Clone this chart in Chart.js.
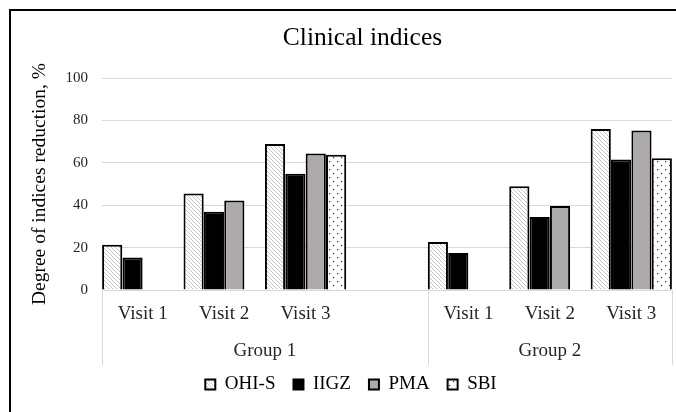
<!DOCTYPE html>
<html>
<head>
<meta charset="utf-8">
<script src="https://cdn.jsdelivr.net/npm/chart.js@4/dist/chart.umd.min.js"></script>
<style>
html,body{margin:0;padding:0;background:#fff;overflow:hidden;}
#wrap{position:relative;width:676px;height:412px;}
</style>
</head>
<body>
<div id="wrap"><canvas id="c" width="676" height="412"></canvas></div>
<script>
// ---- data ----
const chartTitle = 'Clinical indices';
const categories = ['Visit 1', 'Visit 2', 'Visit 3', '', 'Visit 1', 'Visit 2', 'Visit 3'];
const groupOf    = ['Group 1', 'Group 1', 'Group 1', 'Group 1', 'Group 2', 'Group 2', 'Group 2'];
const seriesNames = ['OHI-S', 'IIGZ', 'PMA', 'SBI'];
const ohis = [21.3, 45.5, 68.9, null, 22.7, 48.9, 76.0];
const iigz = [15.3, 36.9, 54.8, null, 17.4, 34.4, 61.5];
const pma  = [null, 42.2, 64.4, null, null, 39.6, 75.2];
const sbi  = [null, null, 63.8, null, null, null, 62.1];
const yTicks = [0, 20, 40, 60, 80, 100];

const FONT = "'Liberation Serif', 'Times New Roman', serif";

// ---- patterns ----
function hatchPattern() {
  const s = 4, c = document.createElement('canvas');
  c.width = s; c.height = s;
  const x = c.getContext('2d');
  x.fillStyle = '#ffffff'; x.fillRect(0, 0, s, s);
  x.strokeStyle = '#c4c4c4'; x.lineWidth = 1;
  x.beginPath();
  x.moveTo(-1, -1); x.lineTo(s + 1, s + 1);
  x.moveTo(-1, s - 1); x.lineTo(1, s + 1);
  x.moveTo(s - 1, -1); x.lineTo(s + 1, 1);
  x.stroke();
  return x.createPattern(c, 'repeat');
}
function dotPattern() {
  const s = 8, c = document.createElement('canvas');
  c.width = s; c.height = s;
  const x = c.getContext('2d');
  x.fillStyle = '#ffffff'; x.fillRect(0, 0, s, s);
  x.fillStyle = '#333333';
  x.fillRect(1, 1, 1.2, 1.2);
  x.fillRect(5, 5, 1.2, 1.2);
  return x.createPattern(c, 'repeat');
}

const fills = [hatchPattern(), '#000000', '#aeaaaa', dotPattern()];
const values = [ohis, iigz, pma, sbi];

const datasets = seriesNames.map((n, i) => ({
  label: n,
  data: values[i],
  backgroundColor: fills[i],
  borderColor: '#000000',
  borderWidth: 2,
  borderSkipped: 'bottom',
  categoryPercentage: 1.0,
  barPercentage: 0.99
}));

// ---- plugin: title, group labels, dividers, outer frame ----
const extras = {
  id: 'extras',
  afterDraw(chart) {
    const ctx = chart.ctx, xs = chart.scales.x, area = chart.chartArea;
    const bottom = area.bottom;
    const bounds = [xs.left];
    for (let i = 1; i < categories.length; i++) {
      if (groupOf[i] !== groupOf[i - 1]) {
        bounds.push((xs.getPixelForValue(i - 1) + xs.getPixelForValue(i)) / 2);
      }
    }
    bounds.push(xs.right);
    ctx.save();
    ctx.strokeStyle = '#d9d9d9';
    ctx.lineWidth = 1;
    bounds.forEach(b => {
      const bx = Math.round(b) + 0.5;
      ctx.beginPath(); ctx.moveTo(bx, bottom); ctx.lineTo(bx, bottom + 75); ctx.stroke();
    });
    const groups = [...new Set(groupOf)];
    ctx.fillStyle = '#262626';
    ctx.font = '19px ' + FONT;
    ctx.textAlign = 'center';
    ctx.textBaseline = 'middle';
    groups.forEach((g, i) => {
      ctx.fillText(g, (bounds[i] + bounds[i + 1]) / 2, bottom + 61);
    });
    // chart title
    ctx.fillStyle = '#000000';
    ctx.font = '25.5px ' + FONT;
    ctx.fillText(chartTitle, 362.5, 38);
    // frame
    ctx.strokeStyle = '#000000';
    ctx.lineWidth = 2;
    ctx.strokeRect(10, 10, 900, 900);
    ctx.restore();
  }
};

new Chart(document.getElementById('c'), {
  type: 'bar',
  data: { labels: categories, datasets },
  options: {
    responsive: false,
    animation: false,
    layout: { padding: { left: 30, right: 4, top: 78, bottom: 8 } },
    plugins: {
      title: { display: false },
      legend: {
        display: true,
        position: 'bottom',
        labels: {
          color: '#000000',
          font: { family: FONT, size: 19 },
          boxWidth: 10,
          boxHeight: 10,
          padding: 18
        }
      },
      tooltip: { enabled: false }
    },
    scales: {
      x: {
        grid: { display: false },
        border: { display: false },
        ticks: {
          color: '#262626',
          font: { family: FONT, size: 19 },
          padding: 5,
          maxRotation: 0,
          autoSkip: false
        },
        afterFit(s) { s.height = 67; }
      },
      y: {
        min: 0, max: 100,
        afterBuildTicks(s) { s.ticks = yTicks.map(v => ({ value: v })); },
        grid: { color: '#d9d9d9', lineWidth: 1, drawTicks: false },
        border: { display: false },
        ticks: {
          color: '#262626',
          font: { family: FONT, size: 15 },
          padding: 14
        },
        title: {
          display: true,
          text: 'Degree of indices reduction, %',
          color: '#000000',
          font: { family: FONT, size: 19.5 },
          padding: { top: -2, bottom: 0 }
        },
        afterFit(s) { s.width = 72; }
      }
    }
  },
  plugins: [extras]
});
</script>
</body>
</html>
